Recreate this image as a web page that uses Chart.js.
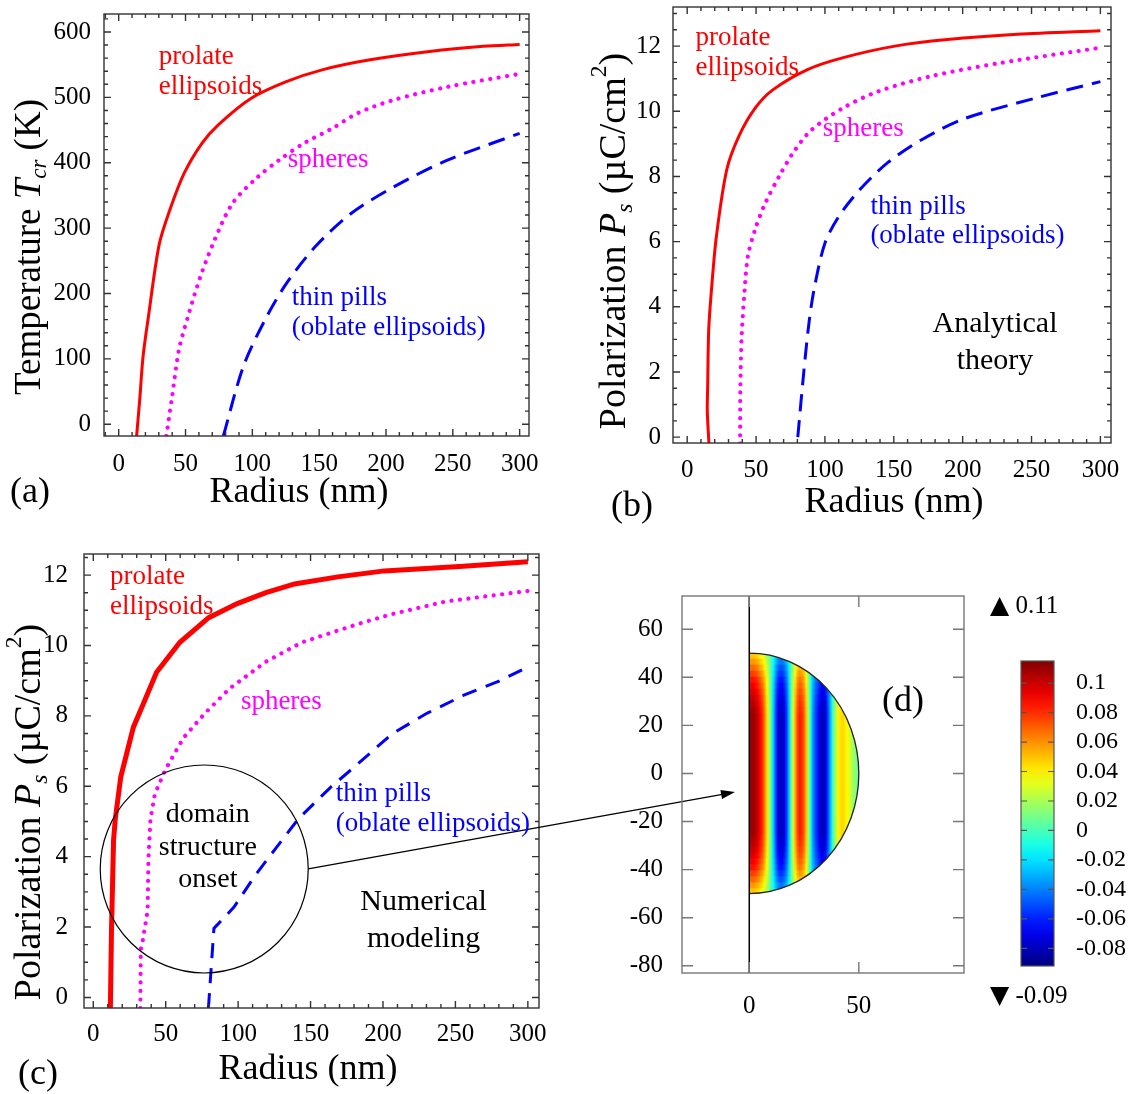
<!DOCTYPE html>
<html>
<head>
<meta charset="utf-8">
<script src="https://cdn.jsdelivr.net/npm/chart.js@4.4.1/dist/chart.umd.min.js"></script>
<style>
  html, body { margin: 0; padding: 0; background: #fff; }
  body { width: 1128px; height: 1094px; position: relative; overflow: hidden; }
  canvas { position: absolute; }
</style>
</head>
<body>
<canvas id="panelA"></canvas>
<canvas id="panelB"></canvas>
<canvas id="panelC"></canvas>
<canvas id="panelD"></canvas>
<canvas id="colorBar"></canvas>
<script>
// ---- data ----
const radiusTicks = [0, 50, 100, 150, 200, 250, 300];
const tempTicks = [0, 100, 200, 300, 400, 500, 600];
const polTicks = [0, 2, 4, 6, 8, 10, 12];

// (a) transition temperature, analytical theory  [radius nm, T K]
const aProlate = [[13.4, -18], [15.7, 37], [18.2, 103], [22.2, 164], [30.2, 274], [38.3, 328], [49, 384], [62.4, 430], [74.5, 458], [98.6, 498], [125.4, 524], [152.2, 542], [187, 557], [232.6, 570], [272.8, 578], [300, 581]];
const aSphere = [[35.6, -18], [39.6, 37], [45, 113], [51.7, 164], [61, 225], [71.8, 282], [85.2, 338], [104, 378], [120, 404], [138.8, 430], [160.2, 453], [179, 476], [205.7, 496], [246, 516], [300, 536]];
const aPill = [[78.3, -18], [93.2, 88], [109.3, 159], [125.4, 215], [146.8, 271], [173.6, 322], [205.8, 363], [246, 404], [300, 445]];

// (b) polarization, analytical theory  [radius nm, Ps uC/cm2]
const bProlate = [[15.8, -0.2], [14.6, 0.8], [14.9, 1.6], [15.6, 3.27], [17.4, 4.4], [21.2, 6.16], [28.8, 8.22], [37.8, 9.26], [49.2, 10.09], [61.9, 10.65], [87.3, 11.28], [112.7, 11.64], [150.8, 12.0], [189, 12.2], [239.8, 12.36], [300, 12.47]];
const bSphere = [[38.4, -0.2], [38.6, 1.5], [39.5, 3.05], [41.5, 4.4], [44, 5.53], [49.2, 6.36], [56.8, 7.19], [67, 8.02], [77.1, 8.74], [89.8, 9.41], [112.7, 10.09], [138.1, 10.6], [176.3, 11.07], [227, 11.48], [300, 11.95]];
const bPill = [[80.3, 0], [84.7, 2.02], [88.6, 3.57], [92.4, 4.6], [100, 5.95], [110.2, 6.78], [125.4, 7.6], [145.8, 8.43], [171.2, 9.15], [201.7, 9.78], [252.5, 10.4], [300, 10.91]];

// (c) polarization, numerical modeling
const cProlate = [[11.8, -0.3], [12.6, 1.96], [14, 4.47], [15.2, 5.07], [19, 6.27], [27.7, 7.68], [35, 8.39], [43.7, 9.24], [59.8, 10.09], [79.7, 10.79], [99.4, 11.19], [119.2, 11.5], [139, 11.75], [168.8, 11.95], [200.9, 12.12], [255.4, 12.25], [300, 12.38]];
const cSphere = [[32.5, -0.3], [32.8, 1.36], [33.9, 1.56], [37.5, 2.46], [38.1, 3.97], [39.5, 5.07], [42.5, 5.78], [49.9, 6.48], [62.3, 7.38], [77.2, 8.08], [94.5, 8.79], [119.2, 9.54], [144, 10.09], [181.1, 10.59], [205.9, 10.89], [243, 11.25], [300, 11.55]];
const cPill = [[79.5, -0.3], [81.6, 0.96], [83.3, 1.96], [84.6, 2.02], [97, 2.56], [111.8, 3.47], [126.6, 4.27], [141.5, 5.07], [163.8, 5.97], [181.1, 6.58], [205.9, 7.48], [230.6, 8.08], [255.4, 8.58], [280.1, 8.99], [300, 9.39]];
const onsetCenter = [76.6, 3.65];

// (d) polarization map in the particle cross-section
const mapXTicks = [0, 50];
const mapYTicks = [-80, -60, -40, -20, 0, 20, 40, 60];
const particleRadius = 50;
// profile across the stripes at the equator (y = 0)
const heatX = [0, 1, 2, 3, 4, 5, 6, 7, 8, 9, 10, 11, 12, 13, 14, 15, 16, 17, 18, 19, 20, 21, 22, 23, 24, 25, 26, 27, 28, 29, 30, 31, 32, 33, 34, 35, 36, 37, 38, 39, 40, 41, 42, 43, 44, 45, 46, 47, 48, 49, 50];
const heatValue = [0.105, 0.11, 0.11, 0.105, 0.1, 0.09, 0.08, 0.065, 0.045, 0.025, 0.0, -0.025, -0.05, -0.07, -0.08, -0.08, -0.07, -0.055, -0.03, 0.0, 0.03, 0.055, 0.075, 0.085, 0.08, 0.07, 0.05, 0.02, -0.01, -0.035, -0.05, -0.06, -0.07, -0.08, -0.08, -0.07, -0.05, -0.03, -0.005, 0.015, 0.03, 0.04, 0.045, 0.045, 0.04, 0.035, 0.03, 0.02, 0.015, 0.01, 0.005];
// how strong the stripes stay towards the poles (|y| band edges)
const edgeY = [0, 25, 27.5, 30, 32.5, 35, 37.5, 40, 42.5, 45, 47.5, 50];
const edgeScale = [1, 1, 0.98, 0.95, 0.92, 0.88, 0.83, 0.78, 0.7, 0.62, 0.53, 0.45];
const barTicks = [0.1, 0.08, 0.06, 0.04, 0.02, 0, -0.02, -0.04, -0.06, -0.08];
const barMin = -0.092, barMax = 0.115;
const dataMax = '0.11', dataMin = '-0.09';

// ---- helpers ----
const serif = "'Liberation Serif', 'Times New Roman', Times, serif";
const RED = '#ff0000', MAG = '#ff00ff', BLUE = '#0000ff';

function range(a, b, step) {
  const out = [];
  for (let v = a; v <= b + 1e-9; v += step) out.push(+v.toFixed(4));
  return out;
}

function jet(t) {
  t = Math.min(1, Math.max(0, t));
  const c = v => Math.round(255 * Math.min(1, Math.max(0, v)));
  return `rgb(${c(1.5 - Math.abs(4 * t - 3))},${c(1.5 - Math.abs(4 * t - 2))},${c(1.5 - Math.abs(4 * t - 1))})`;
}
const barColor = v => jet((v - barMin) / (barMax - barMin));

function drawRich(ctx, parts, x, y, size, color, align, rot) {
  if (typeof parts === 'string') parts = [{ t: parts }];
  ctx.save();
  ctx.translate(x, y);
  if (rot) ctx.rotate(rot);
  const segs = parts.map(p => {
    const s = (p.sub || p.sup) ? size * 0.62 : size;
    const f = `${p.i ? 'italic ' : ''}${s}px ${p.ff || serif}`;
    ctx.font = f;
    return { p, f, w: ctx.measureText(p.t).width, dy: p.sub ? size * 0.28 : p.sup ? -size * 0.4 : 0 };
  });
  const total = segs.reduce((s, g) => s + g.w, 0);
  let cx = align === 'left' ? 0 : align === 'right' ? -total : -total / 2;
  ctx.fillStyle = color;
  ctx.textBaseline = 'middle';
  ctx.textAlign = 'left';
  segs.forEach(g => { ctx.font = g.f; ctx.fillText(g.p.t, cx, g.dy); cx += g.w; });
  ctx.restore();
}

function placeCanvas(id, box) {
  const c = document.getElementById(id);
  c.width = box.w; c.height = box.h;
  c.style.left = box.x + 'px'; c.style.top = box.y + 'px';
  c.style.width = box.w + 'px'; c.style.height = box.h + 'px';
  return c;
}

// frame with inward major/minor ticks on all four sides
function framePlugin(f) {
  return {
    id: 'frame',
    afterDatasetsDraw(chart) {
      const { ctx, chartArea: a } = chart;
      const xs = chart.scales.x, ys = chart.scales.y;
      ctx.save();
      ctx.strokeStyle = f.color;
      ctx.lineWidth = f.width;
      ctx.beginPath();
      const xMark = (vals, len) => vals.forEach(v => {
        const p = xs.getPixelForValue(v);
        if (p < a.left + 1 || p > a.right - 1) return;
        ctx.moveTo(p, a.bottom); ctx.lineTo(p, a.bottom - len);
        ctx.moveTo(p, a.top); ctx.lineTo(p, a.top + len);
      });
      const yMark = (vals, len) => vals.forEach(v => {
        const p = ys.getPixelForValue(v);
        if (p < a.top + 1 || p > a.bottom - 1) return;
        ctx.moveTo(a.left, p); ctx.lineTo(a.left + len, p);
        ctx.moveTo(a.right, p); ctx.lineTo(a.right - len, p);
      });
      if (f.xMajor) xMark(f.xMajor, f.major);
      if (f.xMinor) xMark(f.xMinor, f.minor);
      yMark(f.yMajor, f.major);
      if (f.yMinor) yMark(f.yMinor, f.minor);
      ctx.stroke();
      ctx.strokeRect(a.left, a.top, a.right - a.left, a.bottom - a.top);
      ctx.restore();
    }
  };
}

// texts: page-positioned titles and data-positioned curve labels
function notesPlugin(offset, notes) {
  return {
    id: 'notes',
    afterDraw(chart) {
      const { ctx } = chart;
      notes.forEach(n => {
        let x, y;
        if (n.data) {
          x = chart.scales.x.getPixelForValue(n.data[0]);
          y = chart.scales.y.getPixelForValue(n.data[1]);
        } else {
          x = n.page[0] - offset.x;
          y = n.page[1] - offset.y;
        }
        drawRich(ctx, n.text, x, y, n.size, n.color || '#000', n.align || 'center', n.rot || 0);
      });
    }
  };
}

function panelOptions(p) {
  const yW = p.area.l - p.canvas.x;
  const padTop = p.area.t - p.canvas.y;
  const padRight = p.canvas.x + p.canvas.w - p.area.r;
  const xH = p.canvas.y + p.canvas.h - p.area.b;
  return {
    responsive: false,
    animation: false,
    events: [],
    devicePixelRatio: 1,
    layout: { padding: { left: 0, top: padTop, right: padRight, bottom: 0 } },
    plugins: { legend: { display: false }, tooltip: { enabled: false } },
    scales: {
      x: {
        type: 'linear', min: p.x[0], max: p.x[1], offset: false,
        grid: { display: false }, border: { display: false },
        afterFit: s => { s.height = xH; },
        afterBuildTicks: s => { s.ticks = p.xTicks.map(v => ({ value: v })); },
        ticks: { font: { family: serif, size: p.tickSize }, color: '#000', padding: p.xPad, maxRotation: 0, autoSkip: false, callback: v => String(v) }
      },
      y: {
        type: 'linear', min: p.y[0], max: p.y[1],
        grid: { display: false }, border: { display: false },
        afterFit: s => { s.width = yW; },
        afterBuildTicks: s => { s.ticks = p.yTicks.map(v => ({ value: v })); },
        ticks: { font: { family: serif, size: p.tickSize }, color: '#000', padding: p.yPad, autoSkip: false, callback: v => String(v) }
      }
    }
  };
}

const pts = arr => arr.map(([x, y]) => ({ x, y }));
function curve(arr, color, kind, width) {
  const ds = { data: pts(arr), borderColor: color, borderWidth: width, pointRadius: 0, fill: false, tension: kind.tension };
  if (kind.style === 'dot') { ds.borderDash = [0.01, 8.5]; ds.borderCapStyle = 'round'; ds.borderWidth = 4.2; }
  if (kind.style === 'dash') { ds.borderDash = kind.dash; ds.borderCapStyle = 'butt'; }
  return ds;
}

const titleSize = 36, yTitleSize = 38, labelSize = 27;
const polTitle = [{ t: 'Polarization ' }, { t: 'P', i: true }, { t: 's', i: true, sub: true }, { t: ' (\u00b5C/cm' }, { t: '2', sup: true }, { t: ')' }];

// ---- (a) ----
const PA = { canvas: { x: 0, y: -16, w: 560, h: 540 }, area: { l: 104, t: 14, r: 529, b: 436 }, x: [-11, 307], y: [-18, 627.5], xTicks: radiusTicks, yTicks: tempTicks, tickSize: 25, xPad: 5, yPad: 5 };
new Chart(placeCanvas('panelA', PA.canvas), {
  type: 'line',
  data: { datasets: [
    curve(aProlate, RED, { tension: 0.3 }, 3),
    curve(aSphere, MAG, { tension: 0.3, style: 'dot' }, 4),
    curve(aPill, BLUE, { tension: 0.3, style: 'dash', dash: [17, 9] }, 3)
  ] },
  options: panelOptions(PA),
  plugins: [
    framePlugin({ color: '#333', width: 1.4, major: 7, minor: 4, xMajor: radiusTicks, xMinor: range(-10, 300, 10), yMajor: tempTicks, yMinor: range(0, 620, 20) }),
    notesPlugin(PA.canvas, [
      { page: [30, 247], rot: -Math.PI / 2, size: 37, text: [{ t: 'Temperature ' }, { t: 'T', i: true }, { t: 'cr', i: true, sub: true }, { t: ' (K)' }] },
      { page: [299, 493], size: titleSize, text: 'Radius (nm)' },
      { page: [30, 493], size: titleSize, text: '(a)' },
      { data: [29.9, 561.8], size: labelSize, color: RED, align: 'left', text: 'prolate' },
      { data: [29.9, 515.8], size: labelSize, color: RED, align: 'left', text: 'ellipsoids' },
      { data: [126.4, 404], size: labelSize, color: MAG, align: 'left', text: 'spheres' },
      { data: [129.4, 192.9], size: labelSize, color: BLUE, align: 'left', text: 'thin pills' },
      { data: [129.4, 146.9], size: labelSize, color: BLUE, align: 'left', text: '(oblate ellipsoids)' }
    ])
  ]
});

// ---- (b) ----
const PB = { canvas: { x: 570, y: -24, w: 558, h: 554 }, area: { l: 673, t: 7, r: 1111, b: 443 }, x: [-10.3, 307.7], y: [-0.18, 13.2], xTicks: radiusTicks, yTicks: polTicks, tickSize: 25, xPad: 4, yPad: 4 };
new Chart(placeCanvas('panelB', PB.canvas), {
  type: 'line',
  data: { datasets: [
    curve(bProlate, RED, { tension: 0.3 }, 3),
    curve(bSphere, MAG, { tension: 0.3, style: 'dot' }, 4),
    curve(bPill, BLUE, { tension: 0.3, style: 'dash', dash: [17, 9] }, 3)
  ] },
  options: panelOptions(PB),
  plugins: [
    framePlugin({ color: '#333', width: 1.4, major: 7, minor: 4, xMajor: radiusTicks, xMinor: range(-10, 300, 10), yMajor: polTicks, yMinor: range(0, 13, 0.5) }),
    notesPlugin(PB.canvas, [
      { page: [615, 241], rot: -Math.PI / 2, size: yTitleSize, text: polTitle },
      { page: [894, 503], size: titleSize, text: 'Radius (nm)' },
      { page: [632, 507], size: titleSize, text: '(b)' },
      { data: [6.0, 12.26], size: labelSize, color: RED, align: 'left', text: 'prolate' },
      { data: [6.0, 11.34], size: labelSize, color: RED, align: 'left', text: 'ellipsoids' },
      { data: [98.5, 9.47], size: labelSize, color: MAG, align: 'left', text: 'spheres' },
      { data: [133, 7.08], size: labelSize, color: BLUE, align: 'left', text: 'thin pills' },
      { data: [133, 6.16], size: labelSize, color: BLUE, align: 'left', text: '(oblate ellipsoids)' },
      { data: [223.5, 3.46], size: 30, text: 'Analytical' },
      { data: [223.5, 2.32], size: 30, text: 'theory' }
    ])
  ]
});

// ---- (c) ----
const arrowTip = [735, 792];
const onsetRadiusPx = 104;
const PC = { canvas: { x: 0, y: 524, w: 760, h: 570 }, area: { l: 84, t: 554, r: 539, b: 1008 }, x: [-6.4, 307.7], y: [-0.3, 12.6], xTicks: radiusTicks, yTicks: polTicks, tickSize: 25, xPad: 3, yPad: 8 };
// onset circle and arrow towards panel (d)
const onsetPlugin = {
  id: 'onset',
  afterDatasetsDraw(chart) {
    const { ctx } = chart;
    const cx = chart.scales.x.getPixelForValue(onsetCenter[0]);
    const cy = chart.scales.y.getPixelForValue(onsetCenter[1]);
    ctx.save();
    ctx.strokeStyle = '#000'; ctx.lineWidth = 1.2;
    ctx.beginPath(); ctx.arc(cx, cy, onsetRadiusPx, 0, 2 * Math.PI); ctx.stroke();
    ctx.restore();
  },
  afterDraw(chart) {
    const { ctx } = chart;
    const x0 = chart.scales.x.getPixelForValue(onsetCenter[0]) + onsetRadiusPx;
    const y0 = chart.scales.y.getPixelForValue(onsetCenter[1]);
    const x1 = arrowTip[0] - PC.canvas.x, y1 = arrowTip[1] - PC.canvas.y;
    const ang = Math.atan2(y1 - y0, x1 - x0);
    ctx.save();
    ctx.strokeStyle = '#000'; ctx.fillStyle = '#000'; ctx.lineWidth = 1.3;
    ctx.beginPath(); ctx.moveTo(x0, y0); ctx.lineTo(x1 - 10 * Math.cos(ang), y1 - 10 * Math.sin(ang)); ctx.stroke();
    ctx.beginPath();
    ctx.moveTo(x1, y1);
    ctx.lineTo(x1 - 14 * Math.cos(ang) + 4.5 * Math.sin(ang), y1 - 14 * Math.sin(ang) - 4.5 * Math.cos(ang));
    ctx.lineTo(x1 - 14 * Math.cos(ang) - 4.5 * Math.sin(ang), y1 - 14 * Math.sin(ang) + 4.5 * Math.cos(ang));
    ctx.closePath(); ctx.fill();
    ctx.restore();
  }
};
new Chart(placeCanvas('panelC', PC.canvas), {
  type: 'line',
  data: { datasets: [
    curve(cProlate, RED, { tension: 0 }, 5),
    curve(cSphere, MAG, { tension: 0, style: 'dot' }, 4),
    curve(cPill, BLUE, { tension: 0, style: 'dash', dash: [15, 10] }, 3)
  ] },
  options: panelOptions(PC),
  plugins: [
    framePlugin({ color: '#333', width: 1.4, major: 7, minor: 4, xMajor: radiusTicks, xMinor: range(0, 300, 10), yMajor: polTicks, yMinor: range(0, 12.5, 0.5) }),
    onsetPlugin,
    notesPlugin(PC.canvas, [
      { page: [30, 812], rot: -Math.PI / 2, size: yTitleSize, text: polTitle },
      { page: [308, 1070], size: titleSize, text: 'Radius (nm)' },
      { page: [38, 1075], size: titleSize, text: '(c)' },
      { data: [11.5, 11.95], size: labelSize, color: RED, align: 'left', text: 'prolate' },
      { data: [11.5, 11.1], size: labelSize, color: RED, align: 'left', text: 'ellipsoids' },
      { data: [101.9, 8.4], size: labelSize, color: MAG, align: 'left', text: 'spheres' },
      { data: [79.1, 5.2], size: 28, text: 'domain' },
      { data: [79.1, 4.27], size: 28, text: 'structure' },
      { data: [79.1, 3.34], size: 28, text: 'onset' },
      { data: [167.4, 5.79], size: labelSize, color: BLUE, align: 'left', text: 'thin pills' },
      { data: [167.4, 4.92], size: labelSize, color: BLUE, align: 'left', text: '(oblate ellipsoids)' },
      { data: [228, 2.71], size: 30, text: 'Numerical' },
      { data: [228, 1.66], size: 30, text: 'modeling' }
    ])
  ]
});

// ---- (d) ----
const PD = { canvas: { x: 600, y: 560, w: 380, h: 480 }, area: { l: 682, t: 596, r: 964, b: 973 }, x: [-30.7, 98], y: [-83, 73.8], xTicks: mapXTicks, yTicks: mapYTicks, tickSize: 25, xPad: 10, yPad: 11 };
const heatPlugin = {
  id: 'heatClip',
  beforeDatasetsDraw(chart) {
    const { ctx } = chart, xs = chart.scales.x, ys = chart.scales.y;
    const cx = xs.getPixelForValue(0), cy = ys.getPixelForValue(0);
    const rx = xs.getPixelForValue(particleRadius) - cx, ry = cy - ys.getPixelForValue(particleRadius);
    ctx.save();
    ctx.beginPath();
    ctx.ellipse(cx, cy, rx, ry, 0, -Math.PI / 2, Math.PI / 2);
    ctx.closePath();
    ctx.clip();
  },
  afterDatasetsDraw(chart) {
    const { ctx, chartArea: a } = chart, xs = chart.scales.x, ys = chart.scales.y;
    ctx.restore();
    const cx = xs.getPixelForValue(0), cy = ys.getPixelForValue(0);
    const rx = xs.getPixelForValue(particleRadius) - cx, ry = cy - ys.getPixelForValue(particleRadius);
    ctx.save();
    ctx.strokeStyle = '#222'; ctx.lineWidth = 1.3;
    ctx.beginPath(); ctx.ellipse(cx, cy, rx, ry, 0, -Math.PI / 2, Math.PI / 2); ctx.stroke();
    ctx.strokeStyle = '#000'; ctx.lineWidth = 1.5;
    ctx.beginPath(); ctx.moveTo(cx, a.top); ctx.lineTo(cx, a.bottom); ctx.stroke();
    ctx.restore();
  }
};
// one band of columns per |y| range, coloured along x from the stripe profile
function heatBand(lo, hi, scale) {
  return {
    data: heatX.map(x => ({ x, y: [lo, hi] })),
    grouped: false, barPercentage: 1, categoryPercentage: 1, borderWidth: 0, inflateAmount: 0.6,
    backgroundColor: c => {
      const ch = c.chart;
      if (!ch.chartArea) return 'rgba(0,0,0,0)';
      const xs = ch.scales.x;
      const x0 = heatX[0], x1 = heatX[heatX.length - 1];
      const g = ch.ctx.createLinearGradient(xs.getPixelForValue(x0), 0, xs.getPixelForValue(x1), 0);
      heatX.forEach((x, i) => g.addColorStop((x - x0) / (x1 - x0), barColor(heatValue[i] * scale)));
      return g;
    }
  };
}
const heatBands = [heatBand(-edgeY[1], edgeY[1], edgeScale[1])];
for (let i = 1; i < edgeY.length - 1; i++) {
  heatBands.push(heatBand(edgeY[i], edgeY[i + 1], edgeScale[i + 1]));
  heatBands.push(heatBand(-edgeY[i + 1], -edgeY[i], edgeScale[i + 1]));
}
new Chart(placeCanvas('panelD', PD.canvas), {
  type: 'bar',
  data: { datasets: heatBands },
  options: panelOptions(PD),
  plugins: [
    heatPlugin,
    framePlugin({ color: '#777', width: 1.4, major: 11, xMajor: mapXTicks, yMajor: mapYTicks }),
    notesPlugin(PD.canvas, [{ page: [903, 702], size: 36, text: '(d)' }])
  ]
});

// ---- colour bar ----
const CB = { canvas: { x: 985, y: 575, w: 143, h: 455 }, area: { l: 1021, t: 661, r: 1054, b: 966 } };
new Chart(placeCanvas('colorBar', CB.canvas), {
  type: 'bar',
  data: { labels: ['P'], datasets: [{
    data: [[barMin, barMax]],
    barPercentage: 1, categoryPercentage: 1, borderWidth: 0,
    backgroundColor: c => {
      const ch = c.chart;
      if (!ch.chartArea) return 'rgba(0,0,0,0)';
      const ys = ch.scales.y;
      const g = ch.ctx.createLinearGradient(0, ys.getPixelForValue(barMin), 0, ys.getPixelForValue(barMax));
      range(0, 1, 0.05).forEach(t => g.addColorStop(t, jet(t)));
      return g;
    }
  }] },
  options: {
    responsive: false, animation: false, events: [], devicePixelRatio: 1,
    layout: { padding: { left: CB.area.l - CB.canvas.x, top: CB.area.t - CB.canvas.y, right: 0, bottom: CB.canvas.y + CB.canvas.h - CB.area.b } },
    plugins: { legend: { display: false }, tooltip: { enabled: false } },
    scales: {
      x: { display: false },
      y: {
        position: 'right', min: barMin, max: barMax,
        grid: { display: false }, border: { display: false },
        afterFit: s => { s.width = CB.canvas.x + CB.canvas.w - CB.area.r; },
        afterBuildTicks: s => { s.ticks = barTicks.map(v => ({ value: v })); },
        ticks: { font: { family: serif, size: 24 }, color: '#000', padding: 14, autoSkip: false, callback: v => String(v) }
      }
    }
  },
  plugins: [
    framePlugin({ color: '#555', width: 1.2, major: 6, yMajor: barTicks }),
    notesPlugin(CB.canvas, [
      { page: [990, 606], size: 25, align: 'left', text: [{ t: '\u25B2', ff: "'DejaVu Sans'" }, { t: ' ' + dataMax }] },
      { page: [990, 996], size: 25, align: 'left', text: [{ t: '\u25BC', ff: "'DejaVu Sans'" }, { t: ' ' + dataMin }] }
    ])
  ]
});
</script>
</body>
</html>
